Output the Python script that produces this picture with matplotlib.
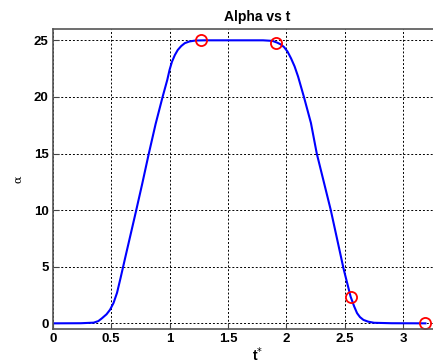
import matplotlib
matplotlib.use("Agg")
import matplotlib.pyplot as plt

# curve
t = [0, 0.24, 0.35, 0.39, 0.42, 0.46, 0.49, 0.52, 0.55, 0.58, 0.62, 0.665,
     0.71, 0.765, 0.82, 0.88, 0.94, 0.98, 1.0, 1.02, 1.045, 1.07, 1.1, 1.13,
     1.17, 1.22, 1.3, 1.5, 1.8, 1.88, 1.92, 1.95, 1.98, 2.01, 2.04, 2.07,
     2.1, 2.15, 2.21, 2.26, 2.32, 2.38, 2.435, 2.49, 2.55, 2.58, 2.605, 2.63,
     2.66, 2.7, 2.75, 2.9, 3.19]
alpha = [0, 0.01, 0.06, 0.2, 0.44, 0.8, 1.2, 1.8, 2.7, 4.0, 5.8, 7.8,
         9.8, 12.3, 14.9, 17.6, 20.0, 21.5, 22.4, 23.1, 23.7, 24.15, 24.5, 24.75,
         24.9, 24.98, 25, 25, 25, 24.95, 24.8, 24.65, 24.4, 24.0, 23.4, 22.7,
         21.8, 20.0, 17.7, 15.0, 12.5, 10.0, 7.4, 4.8, 2.35, 1.5, 0.9, 0.55,
         0.3, 0.15, 0.05, 0.01, 0]

# red circles
t_mark = [1.266, 1.908, 2.55, 3.187]
alpha_mark = [25, 24.8, 2.35, 0]

xticks = [0, 0.5, 1, 1.5, 2, 2.5, 3]
yticks = [0, 5, 10, 15, 20, 25]

W, H = 433, 363
fig = plt.figure(figsize=(W / 100, H / 100), dpi=100)
fig.patch.set_facecolor('white')

x0 = 52.8
scale = 116.8
xmax = 3.5
ax = fig.add_axes([x0 / W, 34 / H, xmax * scale / W, 300 / H])

ax.plot(t, alpha, color='#0000ff', lw=1.5)
ax.plot(t_mark, alpha_mark, 'o', mfc='none', mec='red', mew=1.3, ms=8)

ax.set_xlim(0, xmax)
ax.set_ylim(-0.5, 26)
ax.set_xticks(xticks)
ax.set_yticks(yticks)
ax.set_xticklabels([f'{v:g}' for v in xticks], fontweight='bold',
                   family='Liberation Sans', fontsize=9.5)
ax.set_yticklabels([f'{v:g}' for v in yticks], fontweight='bold',
                   family='Liberation Sans', fontsize=9.5)
ax.tick_params(direction='in', length=4, color='#444444', pad=3)

ax.grid(True, color='black', linestyle=(0, (2, 2)), lw=0.7)
for s in ax.spines.values():
    s.set_color('#555555')
    s.set_linewidth(1.2)

ax.set_title('Alpha vs t', fontweight='bold', family='Liberation Sans',
             fontsize=10, pad=6)
ax.set_xlabel(r't$^{*}$', fontweight='bold', family='Liberation Sans',
              fontsize=10, labelpad=0)
ax.set_ylabel('α', family='DejaVu Serif', fontsize=8, labelpad=8)

plt.savefig('out.png', dpi=100)
